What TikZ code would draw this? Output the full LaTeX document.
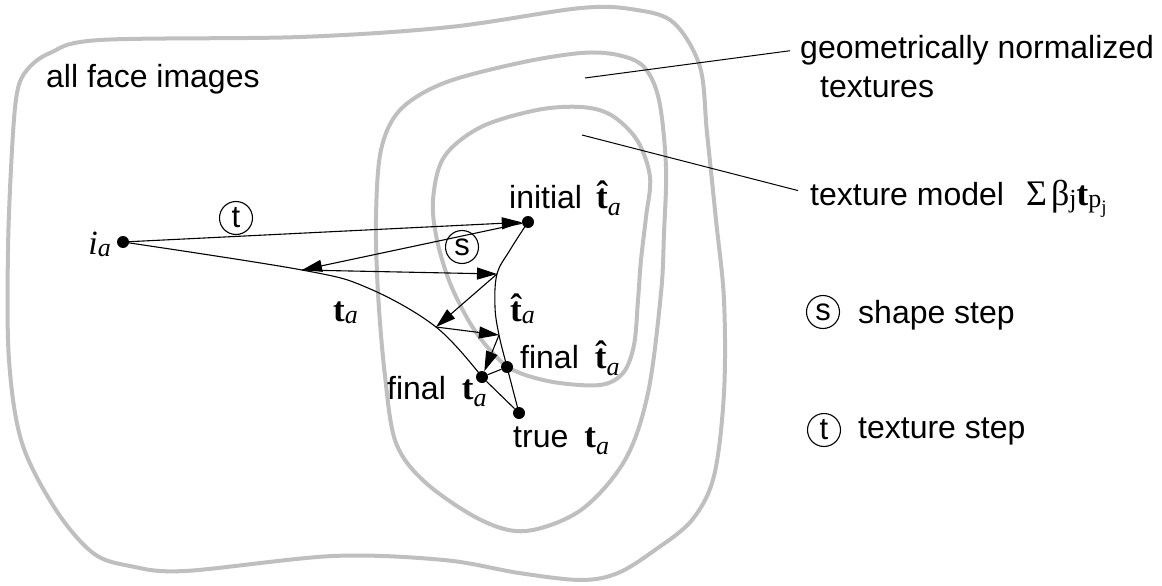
\documentclass[tikz,border=0pt]{standalone}
\usepackage{fontspec}
\setmainfont{Liberation Sans}
\newfontfamily\tms{Liberation Serif}
\usetikzlibrary{arrows.meta}

% serif symbols: bold vector t, italic index, hat
\newcommand\lowsub[1]{\raisebox{-0.24em}{\fontsize{26}{26}\selectfont #1}}
\newcommand\vt{{\tms\fontsize{35}{37}\selectfont\bfseries t}}
\newcommand\vth{{\tms\fontsize{35}{37}\selectfont\bfseries \^{t}}}
\newcommand\vi{{\tms\itshape\fontsize{34}{36}\selectfont i}}
\newcommand\tvec{\vt\lowsub{\tms\itshape a}}
\newcommand\thvec{\vth\lowsub{\tms\itshape a}}

\begin{document}
\begin{tikzpicture}[x=1pt,y=-1pt,
  region/.style={draw=black!25, line width=4pt},
  thin/.style={draw=black, line width=1.1pt},
  stepar/.style={draw=black, line width=1.1pt, -{Triangle[length=20pt,width=12pt]}},
  dot/.style={circle, fill=black, inner sep=0pt, minimum size=12pt},
  txt/.style={font=\fontsize{32}{37}\selectfont, inner sep=0pt},
  circ/.style={circle, draw=black, line width=1.1pt, inner sep=0pt, minimum size=33pt, font=\fontsize{31}{36}\selectfont},
  leader/.style={draw=black, line width=1pt}]
\useasboundingbox (0,0) rectangle (1162,586);

% all face images
\draw[region] plot[smooth cycle, tension=0.55] coordinates {
  (100,40) (300,37) (450,27) (581,8) (637,10) (674,23) (700,67) (707,133)
  (716,220) (724,300) (724,393) (714,476) (692,520) (655,550) (618,573)
  (581,580) (519,573) (444,560) (333,556) (185,571) (130,566) (93,553)
  (56,510) (22,443) (9,360) (8,250) (12,150) (17,93) (27,70) (50,53)};

% geometrically normalized textures
\draw[region] plot[smooth cycle, tension=0.55] coordinates {
  (581,53) (618,55) (644,67) (659,100) (666,167) (664,233) (661,293)
  (648,393) (625,460) (581,510) (526,531) (481,520) (426,483) (396,443)
  (385,376) (378,293) (376,217) (381,150) (400,110) (444,83) (519,63)};

% texture model
\draw[region] plot[smooth cycle, tension=0.55] coordinates {
  (581,107) (611,115) (637,140) (650,177) (646,217) (641,260) (638,300)
  (634,345) (623,373) (600,385) (553,382) (513,370) (490,350) (470,323)
  (450,283) (437,240) (433,200) (444,157) (481,127) (537,110)};

% points on the two trajectories
\coordinate (pia) at (123,242);
\coordinate (pinit) at (528,222);
\coordinate (q1) at (302,270);
\coordinate (q1b) at (368,288);
\coordinate (q3) at (436,327);
\coordinate (pft) at (482,377);
\coordinate (h1) at (510,250);
\coordinate (q2) at (497,274);
\coordinate (h2) at (495,307);
\coordinate (q4) at (499,335);
\coordinate (pfh) at (507,367);
\coordinate (ptrue) at (519,413);

% trajectory of t_a and of its model fit
\draw[thin] plot[smooth, tension=0.6] coordinates {(pia) (q1) (q1b) (q3) (pft)};
\draw[thin] plot[smooth, tension=0.6] coordinates {(pinit) (h1) (q2) (h2) (q4) (pfh) (ptrue)};

% dots
\node[dot] (ia) at (pia) {};
\node[dot] (init) at (pinit) {};
\node[dot] (ft) at (pft) {};
\node[dot] (fh) at (pfh) {};
\node[dot] (tr) at (ptrue) {};

% alternating steps
\draw[stepar] (ia) -- (init);
\draw[stepar] (init) -- (q1);
\draw[stepar] (q1) -- (q2);
\draw[stepar] (q2) -- (q3);
\draw[stepar] (q3) -- (q4);
\draw[stepar] (q4) -- (ft);
\draw[thin] (ft) -- (fh);
\draw[thin] (ft) -- (tr);

% step markers
\node[circ] (ct) at (236,218) {t};
\node[circ] (cs) at (462,247) {s};

% labels
\node[txt, anchor=base west] (lall) at (46,88) {all face images};
\node[inner sep=0pt, anchor=base east] (lia) at (111,254) {\vi\lowsub{\tms\itshape a}};
\node[inner sep=0pt, anchor=base west] (lta) at (333,321) {\tvec};
\node[txt, anchor=base west] (linit) at (509,208) {initial\hspace{14pt}\thvec};
\node[inner sep=0pt, anchor=base west] (lth) at (510,321) {\thvec};
\node[txt, anchor=base west] (lfh) at (520,368) {final\hspace{16pt}\thvec};
\node[txt, anchor=base west] (lft) at (387,399) {final\hspace{16pt}\tvec};
\node[txt, anchor=base west] (ltrue) at (513,447) {true\hspace{16pt}\tvec};

% region names and leaders
\node[txt, anchor=base west] (gn1) at (800,59) {geometrically normalized};
\node[txt, anchor=base west] (gn2) at (820,97) {textures};
\node[txt, anchor=base west] (tm) at (810,205) {texture model};
\node[inner sep=0pt, anchor=base west] (sum) at (1026,205)
  {{\tms\fontsize{36}{38}\selectfont\char"03A3\hspace{4pt}\char"03B2}\lowsub{\tms j}\vt\lowsub{\tms p\raisebox{-0.25em}{\fontsize{19}{19}\selectfont j}}};
\coordinate (gnin) at (585,78);
\coordinate (tmin) at (582,135);
\draw[leader] (gnin) -- ([xshift=-10pt]gn1.west);
\draw[leader] (tmin) -- ([xshift=-12pt,yshift=3pt]tm.west);

% legend
\node[circ] (lgs) at (823,312) {s};
\node[txt, anchor=base west] (lgst) at (858,323) {shape step};
\node[circ] (lgt) at (824,430) {t};
\node[txt, anchor=base west] (lgtt) at (858,438) {texture step};
\end{tikzpicture}
\end{document}
